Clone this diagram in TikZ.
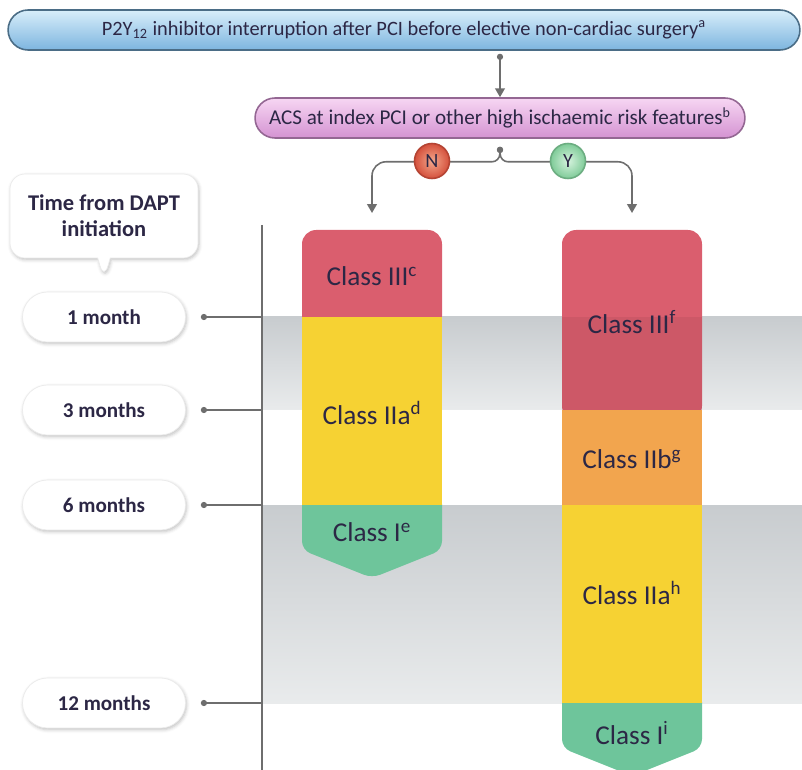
\documentclass[tikz,border=0pt]{standalone}
\usepackage{fontspec}
\setmainfont{Carlito}
\usetikzlibrary{arrows.meta,calc,positioning,shadows.blur,shapes.callouts}

\definecolor{txtc}{HTML}{2C2745}
\definecolor{linec}{HTML}{6E6E6E}
\definecolor{bluetop}{HTML}{D8EEFA}
\definecolor{bluebot}{HTML}{7DB5DF}
\definecolor{purtop}{HTML}{F7D6F3}
\definecolor{purbot}{HTML}{D493D2}
\definecolor{clsred}{HTML}{DA5E6E}
\definecolor{clsyel}{HTML}{F6D233}
\definecolor{clsgrn}{HTML}{6EC59B}
\definecolor{clsorg}{HTML}{F2A54E}
\definecolor{bandtop}{HTML}{C8CCCF}
\definecolor{bandbot}{HTML}{E9EBEC}
\definecolor{noin}{HTML}{F4A88C}
\definecolor{noout}{HTML}{D4503C}
\definecolor{yesin}{HTML}{D6F3DE}
\definecolor{yesout}{HTML}{7FCB98}

\begin{document}
\begin{tikzpicture}[x=0.02cm, y=-0.02cm, every node/.style={text=txtc},
    banner/.style={rounded corners=0.4cm, minimum height=0.8cm, line width=0.9pt},
    pill/.style={fill=white, draw=black!8, rounded corners=0.5cm, minimum width=3.26cm,
      minimum height=1cm, font=\bfseries\fontsize{12}{14}\selectfont,
      blur shadow={shadow xshift=0.6pt, shadow yshift=-1pt, shadow opacity=25}},
    yesno/.style={circle, minimum size=0.7cm, inner sep=0pt, line width=0.9pt,
      shading=radial, font=\fontsize{11.5}{12}\selectfont},
    conn/.style={draw=linec, line width=0.9pt, {Circle[length=3.5pt]}-{Triangle[length=5pt,width=5.5pt]}},
    tick/.style={draw=linec, line width=0.8pt, {Circle[length=3.5pt]}-},
    classlbl/.style={font=\fontsize{15.5}{18}\selectfont}]
\useasboundingbox (0,0) rectangle (802,770);

% header boxes
\node (title) [banner, draw=bluebot!60!black, top color=bluetop, bottom color=bluebot,
  minimum width=15.84cm, font=\fontsize{11.6}{14}\selectfont] at (404,30)
  {P2Y\textsubscript{12} inhibitor interruption after PCI before elective non-cardiac surgery\textsuperscript{a}};
\node (acs) [banner, draw=purbot!70!black, top color=purtop, bottom color=purbot,
  minimum width=9.8cm, font=\fontsize{12}{14}\selectfont] at (500,118)
  {ACS at index PCI or other high ischaemic risk features\textsuperscript{b}};

% time axis
\node (time) [pill, rectangle callout, rounded corners=0.3cm, minimum width=3.76cm,
  minimum height=1.68cm, align=center, callout absolute pointer={(104,280)},
  font=\bfseries\fontsize{12.8}{15}\selectfont] at (104,216)
  {Time from DAPT\\initiation};
\node (m1) [pill] at (104,317) {1 month};
\node (m3) [pill] at (104,410) {3 months};
\node (m6) [pill] at (104,505) {6 months};
\node (m12) [pill] at (104,703) {12 months};

\shade[top color=bandtop, bottom color=bandbot] (262,317) rectangle (802,410);
\shade[top color=bandtop, bottom color=bandbot] (262,505) rectangle (802,703);

\coordinate (axtop) at (262,225);
\coordinate (axbot) at (262,775);
\draw[linec, line width=0.9pt] (axtop) -- (axbot);
\foreach \m in {m1,m3,m6,m12}
  \draw[tick] ($(\m.east)+(15,0)$) -- (\m.east -| axtop);

% columns
\fill[clsred, rounded corners=8pt] (302,230) rectangle (442,330);
\fill[clsgrn, rounded corners=5pt] (302,495) -- (302,550) -- (372,578) -- (442,550) -- (442,495) -- cycle;
\fill[clsyel] (302,317) rectangle (442,505);

\fill[clsred, rounded corners=8pt] (562,230) rectangle (702,420);
\fill[clsgrn, rounded corners=5pt] (562,693) -- (562,748) -- (632,776) -- (702,748) -- (702,693) -- cycle;
\fill[clsorg] (562,410) rectangle (702,505);
\fill[clsyel] (562,505) rectangle (702,703);
\fill[black, opacity=0.06] (562,317) rectangle (702,410);

\node (lIII) [classlbl] at (372,276) {Class III\textsuperscript{c}};
\node (lIIa) [classlbl] at (372,413) {Class IIa\textsuperscript{d}};
\node (lI) [classlbl] at (372,532) {Class I\textsuperscript{e}};
\node (rIII) [classlbl] at (632,322) {Class III\textsuperscript{f}};
\node (rIIb) [classlbl] at (632,459) {Class IIb\textsuperscript{g}};
\node (rIIa) [classlbl] at (632,593) {Class IIa\textsuperscript{h}};
\node (rI) [classlbl] at (632,733) {Class I\textsuperscript{i}};

% connectors
\coordinate (split) at ($(acs.south)+(0,8)$);
\coordinate (cL) at (372,213);
\coordinate (cR) at (632,213);
\draw[conn] (title.south -| acs.north) ++(0,3) -- (acs.north);
\draw[conn] (split) -- ++(0,6) .. controls +(0,6) and +(4,0) .. ++(-8,9)
  [rounded corners=8pt] -| (cL);
\draw[conn] (split) -- ++(0,6) .. controls +(0,6) and +(-4,0) .. ++(8,9)
  [rounded corners=8pt] -| (cR);

\node (no) [yesno, draw=noout!85!black, inner color=noin, outer color=noout] at (432,161) {N};
\node (yes) [yesno, draw=yesout!85!black, inner color=yesin, outer color=yesout] at (568,161) {Y};
\end{tikzpicture}
\end{document}
